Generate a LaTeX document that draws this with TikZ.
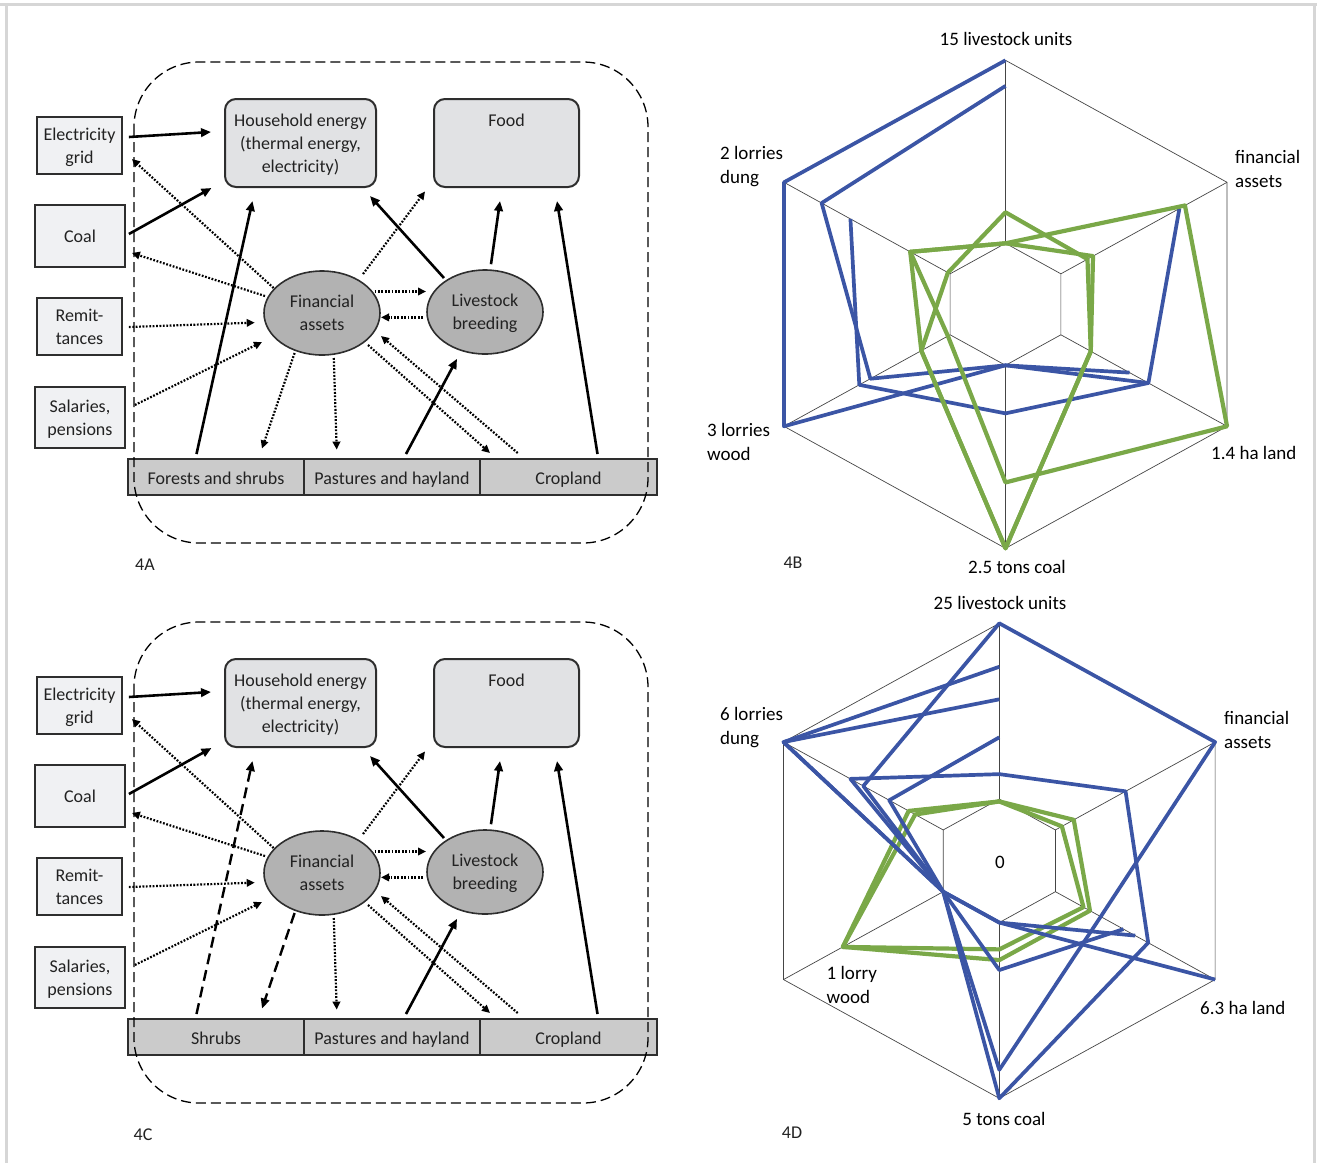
\documentclass[tikz,border=0pt]{standalone}
\usepackage{fontspec}
\setmainfont{Carlito}
\usetikzlibrary{arrows.meta,calc,shapes.geometric}
\definecolor{ink}{HTML}{222222}
\definecolor{edge}{HTML}{2E2E2E}
\definecolor{srcfill}{HTML}{F0F1F3}
\definecolor{outfill}{HTML}{E1E2E4}
\definecolor{ovalfill}{HTML}{B2B2B2}
\definecolor{landfill}{HTML}{CBCBCB}
\definecolor{pagegray}{HTML}{D6D6D6}
\definecolor{gridc}{HTML}{454545}
\definecolor{serblue}{HTML}{3B55A5}
\definecolor{sergreen}{HTML}{7AA848}
\tikzset{
  srcbox/.style={draw=edge, line width=1.8pt, fill=srcfill, inner sep=0pt, align=center, text=ink,
    text depth=0pt},
  outbox/.style={draw=edge, line width=2pt, fill=outfill, rounded corners=11pt, inner sep=0pt,
    minimum width=151pt, minimum height=88pt, align=center, text=ink, text depth=0pt},
  oval/.style={ellipse, draw=edge, line width=1.6pt, fill=ovalfill, minimum width=116pt,
    minimum height=84pt, inner sep=0pt, align=center, text=ink, text depth=0pt},
  landcell/.style={draw=edge, line width=2pt, fill=landfill, minimum width=176pt,
    minimum height=36pt, inner sep=0pt, text=ink, text height=15pt, text depth=0pt},
  solidarr/.style={draw=black, line width=2.6pt, -{Triangle[length=10pt,width=8.5pt]}},
  dotarr/.style={draw=black, line width=2.2pt, dash pattern=on 1.8pt off 1.6pt,
    -{Triangle[length=8pt,width=7.5pt]}},
  dasharr/.style={draw=black, line width=2.4pt, dash pattern=on 11pt off 6pt,
    -{Triangle[length=10pt,width=8.5pt]}},
  sysbox/.style={draw=black, line width=1.3pt, dash pattern=on 10pt off 5pt, rounded corners=65pt},
  pageframe/.style={draw=pagegray, line width=3pt},
  gridl/.style={draw=gridc, line width=0.7pt},
  blueline/.style={draw=serblue, line width=3.7pt, line join=round},
  greenline/.style={draw=sergreen, line width=4.2pt, line join=round},
  axlab/.style={text=black, align=left, inner sep=0pt, font=\fontsize{19}{24}\selectfont},
  panlab/.style={text=ink, inner sep=0pt}
}
% point on radar axis #2 at fraction #3
\newcommand{\spoke}[3]{\coordinate (#1) at ({#3*\rx*cos(60*#2-90)},{#3*\ry*sin(60*#2-90)});}

\begin{document}
\begin{tikzpicture}[x=1pt,y=-1pt,font=\fontsize{18}{23}\selectfont]
  \useasboundingbox (0,0) rectangle (1317,1163);
  \draw[pageframe] (0,4) -- (1317,4);
  \draw[pageframe] (6,4) -- (6,1163);
  \draw[pageframe] (1314,4) -- (1314,1163);

  % land use schemes 4A and 4C
  \foreach \dy/\woodname/\woodup/\wooddown in {0/Forests and shrubs/solidarr/dotarr,560/Shrubs/dasharr/dasharr}{
  \begin{scope}[shift={(0,\dy)}]
    \node[srcbox, minimum width=85pt, minimum height=57pt] (grid) at (79.5,145.5) {Electricity\\grid};
    \node[srcbox, minimum width=90pt, minimum height=62pt] (coal) at (80,236) {Coal};
    \node[srcbox, minimum width=85pt, minimum height=57pt] (remit) at (79.5,326.5) {Remit-\\tances};
    \node[srcbox, minimum width=90pt, minimum height=61pt] (salary) at (80,417.5) {Salaries,\\pensions};

    \node[outbox] (energy) at (300.5,143) {Household energy\\(thermal energy,\\electricity)};
    \node[outbox, minimum width=145pt] (food) at (506.5,143) {Food\\\strut\\\strut};

    \node[oval] (money) at (322,313) {Financial\\assets};
    \node[oval] (herd) at (485,312) {Livestock\\breeding};

    \node[landcell] (forest) at (216,477) {\woodname};
    \node[landcell] (pasture) at (392,477) {Pastures and hayland};
    \node[landcell, minimum width=177pt] (crop) at (568.5,477) {Cropland};

    \draw[sysbox] (134,62) rectangle (648,543);

    % material flows
    \draw[solidarr] ($(grid.east)+(6,-8.5)$) -- ($(energy.west)+(-13,-11)$);
    \draw[solidarr] ($(coal.east)+(3,-2)$) -- ($(energy.south west)+(-12.5,0)$);
    \draw[\woodup] ($(forest.north)+(-19.5,-4)$) -- ($(energy.south)+(-48,13)$);
    \draw[solidarr] ($(herd)+(-41,-34)$) -- ($(energy.south east)+(-7,8)$);
    \draw[solidarr] ($(herd.north)+(6,-5)$) -- ($(food.south)+(-6.5,13)$);
    \draw[solidarr] ($(crop.north)+(29,-4)$) -- ($(food.south)+(50.5,13)$);
    \draw[solidarr] ($(pasture.north)+(14,-4)$) -- ($(herd.south)+(-28,4)$);

    % money flows
    \draw[dotarr] ($(money)+(-48.4,-25)$) -- ($(grid.east)+(9,13.5)$);
    \draw[dotarr] ($(money)+(-57,-17)$) -- ($(coal.east)+(6,17)$);
    \draw[dotarr] ($(remit.east)+(6,0.5)$) -- ($(money.west)+(-8.5,9.6)$);
    \draw[dotarr] ($(salary.east)+(9,-12.5)$) -- ($(money)+(-60,29)$);
    \draw[dotarr] ($(money)+(41,-39)$) -- ($(food.south west)+(-8,3.5)$);
    \draw[dotarr] ($(money)+(52.6,-21.5)$) -- ($(herd)+(-59,-20.5)$);
    \draw[dotarr] ($(herd)+(-62,5.4)$) -- ($(money)+(59,4.4)$);
    \draw[\wooddown] ($(money)+(-27.4,40)$) -- ($(forest.north)+(46,-9.5)$);
    \draw[dotarr] ($(money)+(11.8,45)$) -- ($(pasture.north)+(-55.3,-8.4)$);
    \draw[dotarr] ($(money)+(46,32)$) -- ($(crop.north)+(-78.5,-5)$);
    \draw[dotarr] ($(crop.north)+(-50.8,-5)$) -- ($(money)+(59,23)$);
  \end{scope}
  }
  \node[panlab] (labA) at (145,565) {4A};
  \node[panlab] (labC) at (143,1135) {4C};

  % radar 4B
  \begin{scope}[shift={(1005.5,304.3)}]
    \def\rx{255.8}\def\ry{244}
    \foreach \k in {0,...,5}{
      \spoke{bo\k}{\k}{1}
      \spoke{bi\k}{\k}{.25}
      \draw[gridl] (bi\k) -- (bo\k);
    }
    \draw[gridl] (bo0) -- (bo1) -- (bo2) -- (bo3) -- (bo4) -- (bo5) -- cycle;
    \draw[gridl] (bi0) -- (bi1) -- (bi2) -- (bi3) -- (bi4) -- (bi5) -- cycle;

    \foreach \k/\r [count=\i] in {2/.56,3/.25,4/1,5/1,0/1} {\spoke{u\i}{\k}{\r}}
    \draw[blueline] (u1) -- (u2) -- (u3) -- (u4) -- (u5);
    \foreach \k/\r [count=\i] in {2/.645,3/.25,4/.61,5/.83,0/.895} {\spoke{u\i}{\k}{\r}}
    \draw[blueline] (u1) -- (u2) -- (u3) -- (u4) -- (u5);
    \foreach \k/\r [count=\i] in {1/.785,2/.645,3/.447,4/.66,5/.70} {\spoke{u\i}{\k}{\r}}
    \draw[blueline] (u1) -- (u2) -- (u3) -- (u4) -- (u5);

    \foreach \k/\r [count=\i] in {0/.25,1/.81,2/1,3/.73,4/.26,5/.43} {\spoke{u\i}{\k}{\r}}
    \draw[greenline] (u1) -- (u2) -- (u3) -- (u4) -- (u5) -- (u6) -- cycle;
    \foreach \k/\r [count=\i] in {0/.25,1/.395,2/.385,3/1,4/.38,5/.43} {\spoke{u\i}{\k}{\r}}
    \draw[greenline] (u1) -- (u2) -- (u3) -- (u4) -- (u5) -- (u6) -- cycle;
    \foreach \k/\r [count=\i] in {0/.377,1/.37,2/.385,3/1,4/.38,5/.26} {\spoke{u\i}{\k}{\r}}
    \draw[greenline] (u1) -- (u2) -- (u3) -- (u4) -- (u5) -- (u6) -- cycle;
  \end{scope}
  \node[axlab] (bLive) at (1006,39) {15 livestock units};
  \node[axlab, anchor=west] (bFin) at (1235,168.5) {financial\\assets};
  \node[axlab, anchor=west] (bLand) at (1211,453) {1.4 ha land};
  \node[axlab] (bCoal) at (1017,567) {2.5 tons coal};
  \node[axlab, anchor=west] (bWood) at (707,441.5) {3 lorries\\wood};
  \node[axlab, anchor=west] (bDung) at (720,166.5) {2 lorries\\dung};
  \node[panlab] (labB) at (793,563) {4B};

  % radar 4D
  \begin{scope}[shift={(999.3,860.8)}]
    \def\rx{249.2}\def\ry{237.5}
    \foreach \k in {0,...,5}{
      \spoke{do\k}{\k}{1}
      \spoke{di\k}{\k}{.26}
      \draw[gridl] (di\k) -- (do\k);
    }
    \draw[gridl] (do0) -- (do1) -- (do2) -- (do3) -- (do4) -- (do5) -- cycle;
    \draw[gridl] (di0) -- (di1) -- (di2) -- (di3) -- (di4) -- (di5) -- cycle;

    \foreach \k/\r [count=\i] in {0/.25,1/.345,2/.42,3/.418,4/.725,5/.42} {\spoke{u\i}{\k}{\r}}
    \draw[greenline] (u1) -- (u2) -- (u3) -- (u4) -- (u5) -- (u6) -- cycle;
    \foreach \k/\r [count=\i] in {0/.25,1/.29,2/.39,3/.373,4/.725,5/.39} {\spoke{u\i}{\k}{\r}}
    \draw[greenline] (u1) -- (u2) -- (u3) -- (u4) -- (u5) -- (u6) -- cycle;

    \foreach \k/\r [count=\i] in {0/1,1/1,2/.47,3/.88,4/.26,5/.63} {\spoke{u\i}{\k}{\r}}
    \draw[blueline] (u1) -- (u2) -- (u3) -- (u4) -- (u5) -- (u6) -- cycle;
    \foreach \k/\r [count=\i] in {0/.365,1/.585,2/.69,3/1,4/.26,5/.69} {\spoke{u\i}{\k}{\r}}
    \draw[blueline] (u1) -- (u2) -- (u3) -- (u4) -- (u5) -- (u6) -- cycle;
    \foreach \k/\r [count=\i] in {2/.63,3/.26,4/.26,5/1,0/.817} {\spoke{u\i}{\k}{\r}}
    \draw[blueline] (u1) -- (u2) -- (u3) -- (u4) -- (u5);
    \foreach \k/\r [count=\i] in {2/1,3/.26,4/.26,5/1,0/.68} {\spoke{u\i}{\k}{\r}}
    \draw[blueline] (u1) -- (u2) -- (u3) -- (u4) -- (u5);
    \foreach \k/\r [count=\i] in {2/.575,3/.46,4/.26,5/.51,0/.52} {\spoke{u\i}{\k}{\r}}
    \draw[blueline] (u1) -- (u2) -- (u3) -- (u4) -- (u5);
  \end{scope}
  \node[axlab] (dLive) at (1000,602.5) {25 livestock units};
  \node[axlab, anchor=west] (dFin) at (1224,729.5) {financial\\assets};
  \node[axlab, anchor=west] (dLand) at (1200,1007.5) {6.3 ha land};
  \node[axlab] (dCoal) at (1004,1119) {5 tons coal};
  \node[axlab, anchor=west] (dWood) at (826.5,984.5) {1 lorry\\wood};
  \node[axlab, anchor=west] (dDung) at (720,727.5) {6 lorries\\dung};
  \node[axlab] (dZero) at (1000,862) {0};
  \node[panlab] (labD) at (792,1133) {4D};
\end{tikzpicture}
\end{document}
